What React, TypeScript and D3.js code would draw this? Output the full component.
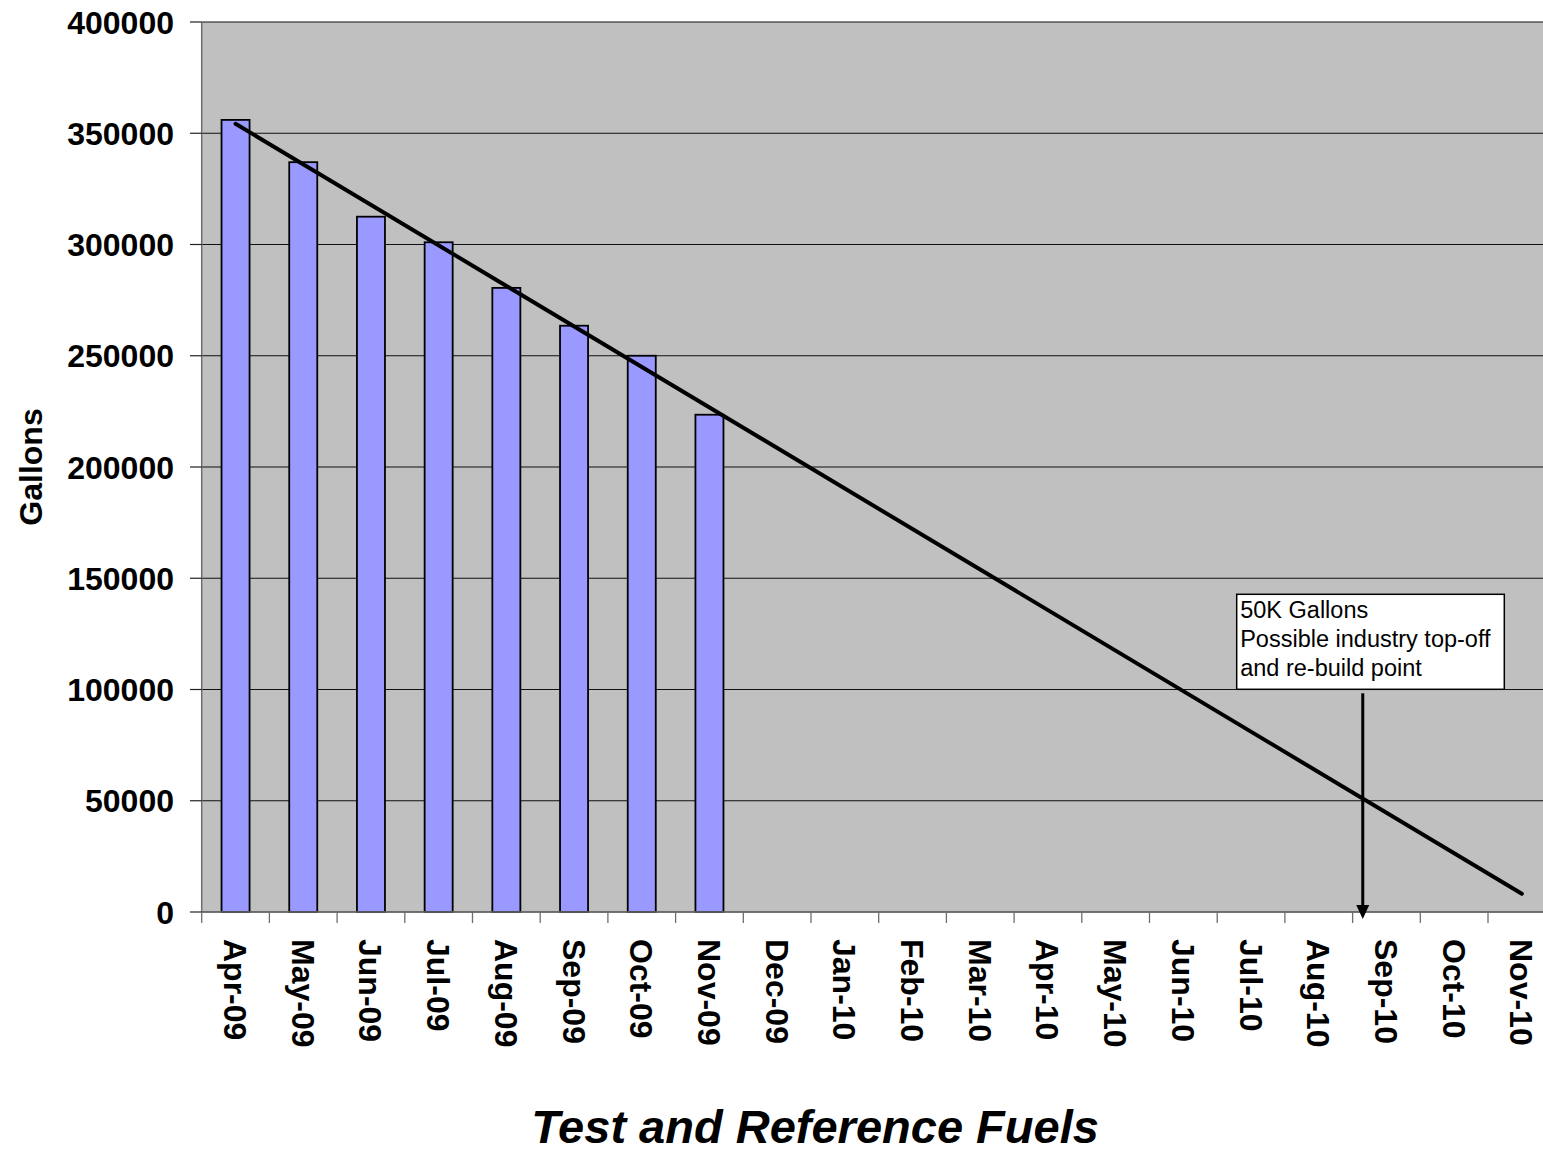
import React from "react";
import * as d3 from "d3";

const months = [
  "Apr-09", "May-09", "Jun-09", "Jul-09", "Aug-09", "Sep-09", "Oct-09", "Nov-09",
  "Dec-09", "Jan-10", "Feb-10", "Mar-10", "Apr-10", "May-10", "Jun-10", "Jul-10",
  "Aug-10", "Sep-10", "Oct-10", "Nov-10",
];
const gallons = [356000, 337000, 312500, 301000, 280500, 263500, 250000, 223500];
const yTicks = [0, 50000, 100000, 150000, 200000, 250000, 300000, 350000, 400000];
const annotationLines = ["50K Gallons", "Possible industry top-off", "and re-build point"];
const annotationMonthIndex = 16.65; // where the arrow points (month position)

const W = 1543;
const H = 1154;
const FONT = "Arial, 'Liberation Sans', Helvetica, sans-serif";

export default function App() {
  const left = 201.7;
  const step = 67.7;
  const top = 22;
  const bottom = 912;
  const x = d3.scaleBand<string>().domain(months).range([left, left + step * months.length]).padding(0);
  const y = d3.scaleLinear().domain([0, 400000]).range([bottom, top]);
  const bw = x.bandwidth() * 0.414;
  const cx = (i: number) => (x(months[0]) as number) + x.bandwidth() * (i + 0.5);

  // linear trend fitted to the monthly values
  const xs = gallons.map((_, i) => i);
  const mx = d3.mean(xs) as number;
  const my = d3.mean(gallons) as number;
  const sxy = d3.sum(xs, (v, i) => (v - mx) * (gallons[i] - my));
  const sxx = d3.sum(xs, (v) => (v - mx) * (v - mx));
  const slope = sxy / sxx;
  const intercept = my - slope * mx;
  const trendPts: [number, number][] = [0, months.length - 1].map((i) => [cx(i), y(intercept + slope * i)]);
  const line = d3.line();

  const ax = cx(annotationMonthIndex);
  const boxX = 1236.7, boxY = 594.3, boxW = 267.6, boxH = 95;

  return (
    <svg width={W} height={H} style={{ position: "absolute", left: 0, top: 0, background: "#fff" }}>
      <rect x={left} y={top} width={step * months.length} height={bottom - top} fill="#C0C0C0" />
      {yTicks.map((t) => (
        <line key={"g" + t} x1={left} x2={left + step * months.length} y1={y(t)} y2={y(t)} stroke="#111" strokeWidth={1.2} />
      ))}
      {gallons.map((v, i) => (
        <rect key={months[i]} x={cx(i) - bw / 2} y={y(v)} width={bw} height={bottom - y(v)} fill="#9999FF" stroke="#000" strokeWidth={1.8} />
      ))}
      <line x1={left} x2={left} y1={top} y2={bottom} stroke="#6e6e6e" strokeWidth={1.5} />
      <line x1={left} x2={left + step * months.length} y1={bottom} y2={bottom} stroke="#6e6e6e" strokeWidth={1.5} />
      {yTicks.map((t) => (
        <g key={"t" + t}>
          <line x1={190} x2={left} y1={y(t)} y2={y(t)} stroke="#222" strokeWidth={1.2} />
          <text x={174} y={y(t)} dy="0.36em" textAnchor="end" fontFamily={FONT} fontWeight="bold" fontSize={32}>{t}</text>
        </g>
      ))}
      {months.map((m, i) => (
        <g key={"x" + m}>
          <line x1={(x(m) as number)} x2={(x(m) as number)} y1={bottom} y2={923} stroke="#6e6e6e" strokeWidth={1.3} />
          <text transform={`translate(${cx(i)},${939}) rotate(90)`} dy="0.36em" fontFamily={FONT} fontWeight="bold" fontSize={32}>{m}</text>
        </g>
      ))}
      <path d={line(trendPts) as string} stroke="#000" strokeWidth={4} strokeLinecap="round" fill="none" />
      <rect x={boxX} y={boxY} width={boxW} height={boxH} fill="#fff" stroke="#000" strokeWidth={1.5} />
      {annotationLines.map((s, i) => (
        <text key={s} x={boxX + 3.5} y={618 + i * 29} fontFamily={FONT} fontSize={23.5}>{s}</text>
      ))}
      <line x1={ax} x2={ax} y1={boxY + boxH + 4} y2={906} stroke="#000" strokeWidth={3} />
      <polygon points={`${ax - 6.5},${905} ${ax + 6.5},${905} ${ax},${919}`} fill="#000" />
      <text transform={`translate(42,467) rotate(-90)`} textAnchor="middle" fontFamily={FONT} fontWeight="bold" fontSize={32}>Gallons</text>
      <text x={815} y={1143} textAnchor="middle" fontFamily={FONT} fontWeight="bold" fontStyle="italic" fontSize={47}>Test and Reference Fuels</text>
    </svg>
  );
}
